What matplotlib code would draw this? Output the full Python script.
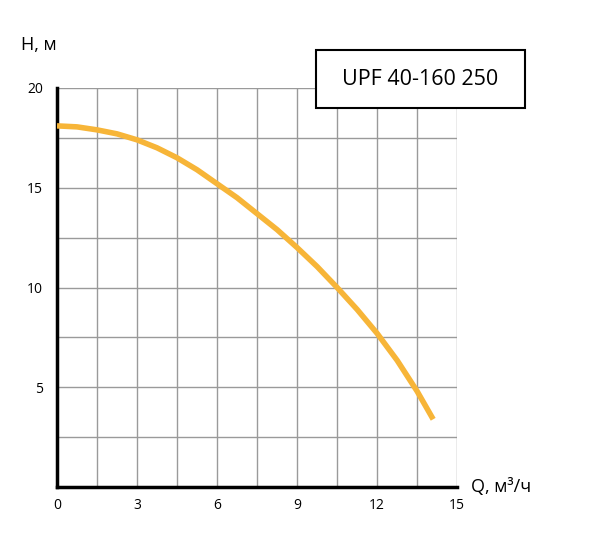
import matplotlib
matplotlib.use("Agg")
import matplotlib.pyplot as plt
import numpy as np

q = [0, 0.75, 1.5, 2.25, 3, 3.75, 4.5, 5.25, 6, 6.75, 7.5, 8.25, 9, 9.75, 10.5, 11.25, 12, 12.75, 13.5, 14.1]
h = [18.1, 18.05, 17.9, 17.7, 17.4, 17.0, 16.5, 15.9, 15.2, 14.5, 13.7, 12.9, 12.0, 11.05, 10.0, 8.9, 7.7, 6.35, 4.8, 3.4]
xticks = [0, 3, 6, 9, 12, 15]
yticks = [5, 10, 15, 20]
title = "UPF 40-160 250"

plt.rcParams['font.family'] = ['Open Sans', 'DejaVu Sans']
fig = plt.figure(figsize=(6, 5.33), dpi=100)
ax = fig.add_axes([0.095, 0.086, 0.667, 0.749])
ax.set_xlim(0, 15)
ax.set_ylim(0, 20)
for x in np.arange(1.5, 15.01, 1.5):
    ax.axvline(x, color='#9a9a9a', lw=1, zorder=1)
for y in np.arange(2.5, 20.01, 2.5):
    ax.axhline(y, color='#9a9a9a', lw=1, zorder=1)
ax.plot(q, h, color='#F7B538', lw=4, solid_capstyle='butt', zorder=3)
ax.set_xticks(xticks)
ax.set_yticks(yticks)
ax.tick_params(axis='x', length=0, labelsize=10, pad=8)
ax.tick_params(axis='y', length=0, labelsize=10, pad=10)
for s in ['top', 'right']:
    ax.spines[s].set_visible(False)
for s in ['left', 'bottom']:
    ax.spines[s].set_linewidth(2.5)
fig.text(0.035, 0.915, "H, м", fontsize=13, va='center')
fig.text(0.785, 0.086, "Q, м³/ч", fontsize=13, va='center')
fig.patches.append(plt.Rectangle((0.527, 0.797), 0.348, 0.109, transform=fig.transFigure,
                                 fill=True, facecolor='white', edgecolor='black', lw=1.5, zorder=5))
fig.text(0.701, 0.851, title, fontsize=15.5, ha='center', va='center', zorder=6)
fig.savefig("out.png")
